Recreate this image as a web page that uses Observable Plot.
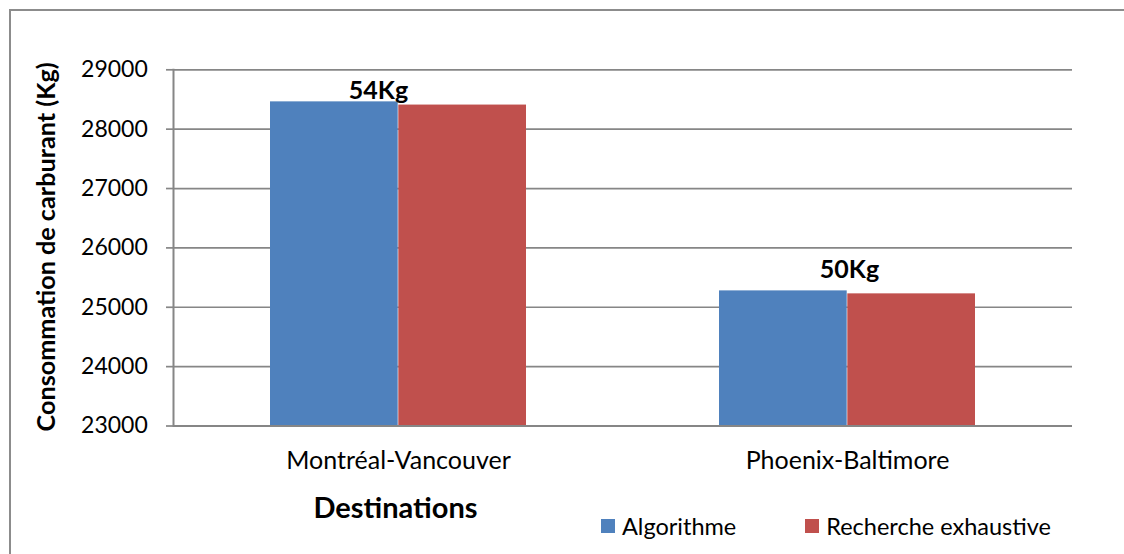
<!DOCTYPE html>
<html>
<head>
<meta charset="utf-8">
<script src="https://cdn.jsdelivr.net/npm/d3@7"></script>
<script src="https://cdn.jsdelivr.net/npm/@observablehq/plot@0.6"></script>
<style>
  html, body { margin: 0; padding: 0; background: #fff; overflow: hidden; }
  #wrap { position: relative; width: 1124px; height: 554px; overflow: hidden; font-family: Lato, "Open Sans", sans-serif; }
  #border { position: absolute; left: 9px; top: 9px; width: 1200px; height: 700px; border: 2px solid #8c8c8c; box-sizing: border-box; }
  #chart { position: absolute; left: 0; top: 0; }
  #legend { position: absolute; left: 601px; top: 512px; display: flex; align-items: center; font-size: 23.5px; color: #000; }
  #legend .item { display: flex; align-items: center; margin-right: 69px; }
  #legend .sw { width: 14px; height: 14px; margin-right: 7px; }
</style>
</head>
<body>
<div id="wrap">
  <div id="border"></div>
  <div id="chart"></div>
  <div id="legend"></div>
</div>
<script>
// Fuel consumption per route: heuristic algorithm vs exhaustive search
const destinations = ["Montréal-Vancouver", "Phoenix-Baltimore"];
const series = ["Algorithme", "Recherche exhaustive"];
const algorithme = [28460, 25276];
const rechercheExhaustive = [28406, 25226];
const colors = ["#4F81BD", "#C0504D"];
const yTicks = [23000, 24000, 25000, 26000, 27000, 28000, 29000];

const rows = destinations.map((d, i) => ({
  destination: d,
  algorithme: algorithme[i],
  recherche: rechercheExhaustive[i],
  gap: `${algorithme[i] - rechercheExhaustive[i]}Kg`
}));

const grey = "#868686";
const halfBand = 128.3;

const chart = Plot.plot({
  width: 1124,
  height: 554,
  marginLeft: 173,
  marginRight: 52,
  marginTop: 69.3,
  marginBottom: 128.5,
  style: { fontFamily: "Lato, 'Open Sans', sans-serif", background: "transparent", color: "#000" },
  x: { domain: destinations, paddingInner: 0.429, paddingOuter: 0.2145, axis: null },
  y: { domain: [23000, 29000], axis: null },
  marks: [
    Plot.ruleY(yTicks.slice(1), { stroke: grey, strokeWidth: 1.7 }),
    Plot.barY(rows, { x: "destination", y1: 23000, y2: "algorithme", fill: colors[0], insetRight: halfBand }),
    Plot.barY(rows, { x: "destination", y1: 23000, y2: "recherche", fill: colors[1], insetLeft: halfBand }),
    Plot.ruleY([23000], { stroke: grey, strokeWidth: 2.2 }),
    Plot.frame({ anchor: "left", stroke: grey, strokeWidth: 2 }),
    Plot.axisY({ ticks: yTicks, tickFormat: d => String(d), tickSize: 7, tickPadding: 18.7, stroke: grey, strokeWidth: 1.7, fontSize: 23, label: null }),
    Plot.axisX({ tickSize: 0, tickPadding: 25, fontSize: 25, label: null }),
    Plot.text(rows.slice(0, 1), { x: "destination", y: "algorithme", text: "gap", dx: -20, dy: -11.3, lineAnchor: "middle", fontSize: 25, fontWeight: "bold", fill: "#000" }),
    Plot.text(rows.slice(1), { x: "destination", y: "algorithme", text: "gap", dx: 2, dy: -20.7, lineAnchor: "middle", fontSize: 25, fontWeight: "bold", fill: "#000" }),
    Plot.text(["Consommation de carburant (Kg)"], { frameAnchor: "left", rotate: -90, dx: -127, dy: -1, textAnchor: "middle", lineAnchor: "middle", fontSize: 25.2, fontWeight: "bold", fill: "#000" }),
    Plot.text(["Destinations"], { frameAnchor: "bottom", dx: -227.5, dy: 82.5, textAnchor: "middle", lineAnchor: "middle", fontSize: 29, fontWeight: "bold", fill: "#000" })
  ]
});
document.getElementById("chart").appendChild(chart);

// Legend
const legend = document.getElementById("legend");
series.forEach((s, i) => {
  const item = document.createElement("div");
  item.className = "item";
  const sw = document.createElement("span");
  sw.className = "sw";
  sw.style.background = colors[i];
  const label = document.createElement("span");
  label.textContent = s;
  item.appendChild(sw);
  item.appendChild(label);
  legend.appendChild(item);
});
</script>
</body>
</html>
